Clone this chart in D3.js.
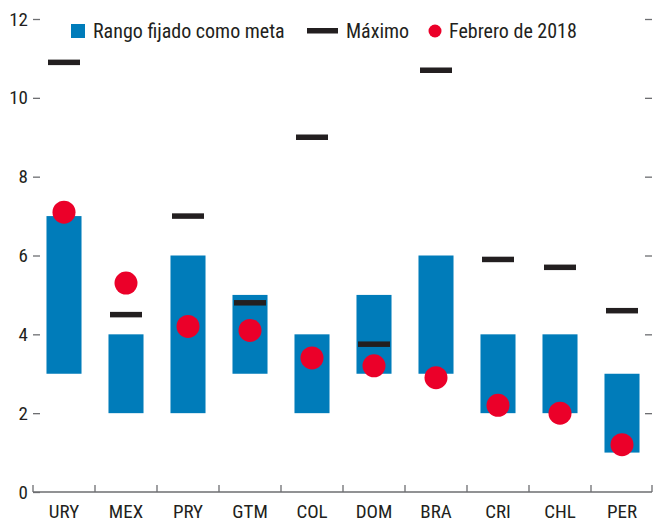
<!DOCTYPE html>
<html><head><meta charset="utf-8">
<script src="https://cdn.jsdelivr.net/npm/d3@7"></script>
<style>
html,body{margin:0;padding:0;background:#fff;}
svg{display:block;}
text{font-family:"Liberation Sans Narrow","Arial Narrow","Roboto Condensed","DejaVu Sans Condensed",sans-serif;fill:#231F20;}
</style></head>
<body>
<svg id="chart" width="653" height="523"></svg>
<script>
const categories = ["URY","MEX","PRY","GTM","COL","DOM","BRA","CRI","CHL","PER"];
const rangeLow  = [3, 2, 2, 3, 2, 3, 3, 2, 2, 1];
const rangeHigh = [7, 4, 6, 5, 4, 5, 6, 4, 4, 3];
const maximo    = [10.9, 4.5, 7.0, 4.8, 9.0, 3.75, 10.7, 5.9, 5.7, 4.6];
const feb2018   = [7.1, 5.3, 4.2, 4.1, 3.4, 3.2, 2.9, 2.2, 2.0, 1.2];
const yTicks    = [0, 2, 4, 6, 8, 10, 12];
const legendLabels = ["Rango fijado como meta", "Máximo", "Febrero de 2018"];

const BLUE = "#007CBA", RED = "#EB0029", BLACK = "#231F20", GRAY = "#6d6e71";
const svg = d3.select("#chart");
const mLeft = 33, mRight = 653, mTop = 19, mBottom = 492;

const x = d3.scaleBand().domain(categories).range([mLeft, mRight])
  .paddingInner(0.435).paddingOuter(0.2175);
const y = d3.scaleLinear().domain([0, 12]).range([mBottom, mTop]);
const step = x.step();

// y axis left
const ya = svg.append("g").attr("transform", `translate(${mLeft},0)`)
  .call(d3.axisLeft(y).tickValues(yTicks).tickSize(-7).tickPadding(5).tickFormat(d3.format("d")));
ya.select(".domain").remove();
ya.selectAll("line").attr("stroke", GRAY).attr("stroke-width", 1.3);
ya.selectAll("text").style("font-size", "19px").attr("fill", BLACK);

// y axis right (ticks only)
const yr = svg.append("g").attr("transform", `translate(${mRight - 1},0)`)
  .call(d3.axisRight(y).tickValues(yTicks.filter(d => d > 0)).tickSize(-7).tickFormat(""));
yr.select(".domain").remove();
yr.selectAll("line").attr("stroke", GRAY).attr("stroke-width", 1.3);

// bars
svg.append("g").selectAll("rect").data(categories).join("rect")
  .attr("x", d => x(d)).attr("width", x.bandwidth())
  .attr("y", (d, i) => y(rangeHigh[i]))
  .attr("height", (d, i) => y(rangeLow[i]) - y(rangeHigh[i]))
  .attr("fill", BLUE);

// x axis
const boundaries = d3.range(categories.length + 1);
const xa = svg.append("g");
xa.append("line").attr("x1", mLeft).attr("x2", mRight - 1)
  .attr("y1", y(0)).attr("y2", y(0)).attr("stroke", GRAY).attr("stroke-width", 1.5);
xa.selectAll("line.tk").data(boundaries).join("line").attr("class", "tk")
  .attr("x1", i => Math.min(mLeft + i * step, mRight - 1)).attr("x2", i => Math.min(mLeft + i * step, mRight - 1))
  .attr("y1", y(0)).attr("y2", y(0) - 7).attr("stroke", GRAY).attr("stroke-width", 1.3);
xa.selectAll("text").data(categories).join("text")
  .attr("x", d => x(d) + x.bandwidth() / 2).attr("y", 518)
  .attr("text-anchor", "middle").style("font-size", "19px").text(d => d);

// maximo markers
const mw = 32, mh = 5.5;
svg.append("g").selectAll("rect").data(categories).join("rect")
  .attr("x", d => x(d) + x.bandwidth() / 2 - mw / 2).attr("width", mw)
  .attr("y", (d, i) => y(maximo[i]) - mh / 2).attr("height", mh)
  .attr("fill", BLACK);

// feb 2018 dots
svg.append("g").selectAll("circle").data(categories).join("circle")
  .attr("cx", d => x(d) + x.bandwidth() / 2)
  .attr("cy", (d, i) => y(feb2018[i])).attr("r", 11.5)
  .attr("fill", RED);

// legend
const lg = svg.append("g");
lg.append("rect").attr("x", 71).attr("y", 24).attr("width", 14).attr("height", 14).attr("fill", BLUE);
lg.append("text").attr("x", 93).attr("y", 38).style("font-size", "20px").text(legendLabels[0]);
lg.append("rect").attr("x", 307).attr("y", 28).attr("width", 31).attr("height", 5.5).attr("fill", BLACK);
lg.append("text").attr("x", 346).attr("y", 38).style("font-size", "20px").text(legendLabels[1]);
lg.append("circle").attr("cx", 435).attr("cy", 31).attr("r", 6.5).attr("fill", RED);
lg.append("text").attr("x", 449).attr("y", 38).style("font-size", "20px").text(legendLabels[2]);
</script>
</body></html>
